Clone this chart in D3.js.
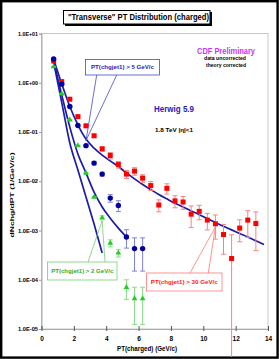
<!DOCTYPE html>
<html><head><meta charset="utf-8">
<script src="https://cdn.jsdelivr.net/npm/d3@7"></script>
<style>html,body{margin:0;padding:0;background:#fff;}svg{display:block;font-family:"Liberation Sans",Arial,sans-serif;}</style>
</head><body>
<script>
// ---- data ----
const xBins = [0.75,1.25,1.75,2.25,2.75,3.25,3.75,4.25,4.75,5.25,5.75,6.25,6.75,7.25,7.75,8.25,8.75,9.25,9.75,10.25,10.75,11.25,11.75,12.25,12.75,13.25,13.75];
const red30 = [2.78,1.06,0.465,0.206,0.134,0.084,0.0456,0.0334,0.0219,0.0140,0.0161,0.0116,0.0082,0.0033,0.0072,0.0040,0.0038,0.00215,0.00245,0.00163,0.00137,0.00083,0.00027,0.00112,0.00163,0.00139];
const red30Err = [0.03,0.02,0.012,0.008,0.007,0.005,0.0045,0.005,0.0033,0.0026,0.0028,0.002,0.0017,0.0009,0.0017,0.0011,0.0011,0.001,0.0008,0.0006,0.0007,0.0005,0.00055,0.00053,0.0009,0.001];
const blue5 = [3.05,0.94,0.33,0.136,0.053,0.0234,0.014,0.00456,0.00323,0.00074,0.00043,0.00043];
const blue5Err = [0.03,0.01,0.005,0.003,0.0015,0.0019,0.0013,0.0008,0.0008,0.0003,0.00028,0.00028];
const green2 = [2.13,0.596,0.177,0.053,0.0147,0.00478,0.00182,0.000557,0.00035,0.00007,0.0000414,0.0000414];
const green2Err = [0.02,0.005,0.002,0.0008,0.0003,0.00012,0.00017,0.00009,0.00006,0.00003,0.000029,0.000029];
const herwig30 = [3.0,0.95,0.33,0.14,0.072,0.047,0.034,0.026,0.020,0.0148,0.0112,0.0086,0.0068,0.0054,0.0044,0.0036,0.0030,0.0025,0.0021,0.00175,0.00145,0.00122,0.00103,0.00087,0.00074,0.00062,0.00052];
const herwig5 = [2.8,0.57,0.126,0.036,0.0148,0.006,0.003,0.00178,0.00112,0.00074];
const herwig2 = [2.6,0.40,0.060,0.017,0.0048,0.00135,0.00035];
const yTickVals = [1e-5,1e-4,1e-3,1e-2,1e-1,1,10];
const yTickLabels = ["1.0E-05","1.0E-04","1.0E-03","1.0E-02","1.0E-01","1.0E+00","1.0E+01"];
const xTickVals = [0,2,4,6,8,10,12,14];

// ---- layout ----
const W = 279, H = 359;
const L = 41.5, R = 268, T = 33.6, B = 329;
const svg = d3.select("body").append("svg").attr("width",W).attr("height",H);
svg.append("rect").attr("x",0).attr("y",0).attr("width",W).attr("height",H).attr("fill","#fff");
svg.append("rect").attr("x",1.2).attr("y",1.2).attr("width",W-2.6).attr("height",H-2.6)
  .attr("fill","none").attr("stroke","#000").attr("stroke-width",2.4);

const x = d3.scaleLinear().domain([0,14]).range([L,R]);
const y = d3.scaleLog().domain([1e-5,10]).range([B,T]);

// plot frame
svg.append("rect").attr("x",L).attr("y",T).attr("width",R-L).attr("height",B-T)
  .attr("fill","none").attr("stroke","#b8b8b8").attr("stroke-width",0.8);

// axes
const yAxis = svg.append("g").attr("transform",`translate(${L},0)`)
  .call(d3.axisLeft(y).tickValues(yTickVals).tickSize(2.5).tickFormat((d,i)=>yTickLabels[i]));
yAxis.select(".domain").attr("stroke","#999").attr("stroke-width",0.8);
yAxis.selectAll(".tick line").attr("stroke","#999");
yAxis.selectAll("text").attr("font-size",5.2).attr("font-weight","bold").attr("fill","#000")
  .attr("x",-3.5).attr("textLength",20).attr("lengthAdjust","spacingAndGlyphs");

const xAxis = svg.append("g").attr("transform",`translate(0,${B})`)
  .call(d3.axisBottom(x).tickValues(xTickVals).tickSize(-3).tickFormat(d3.format("d")));
xAxis.select(".domain").attr("stroke","#999").attr("stroke-width",0.8);
xAxis.selectAll(".tick line").attr("stroke","#555").attr("y1",2);
xAxis.selectAll("text").attr("font-size",6.5).attr("font-weight","bold").attr("fill","#000").attr("y",7);

// axis titles
svg.append("text").attr("x",147).attr("y",350.5).attr("text-anchor","middle")
  .attr("font-size",7).attr("font-weight","bold").attr("textLength",60).attr("lengthAdjust","spacingAndGlyphs")
  .text("PT(charged)  (GeV/c)");
svg.append("text").attr("transform","translate(14,195) rotate(-90)").attr("text-anchor","middle")
  .attr("font-size",6).attr("font-weight","bold").attr("textLength",85).attr("lengthAdjust","spacingAndGlyphs")
  .text("dNchg/dPT (1/GeV/c)");

// title box
svg.append("rect").attr("x",65).attr("y",12).attr("width",147).attr("height",14).attr("fill","#000");
svg.append("rect").attr("x",63.5).attr("y",10.5).attr("width",146.5).attr("height",13.5).attr("fill","#fff")
  .attr("stroke","#000").attr("stroke-width",1);
svg.append("text").attr("x",138.5).attr("y",20.3).attr("text-anchor","middle")
  .attr("font-size",8.6).attr("font-weight","bold").attr("textLength",141).attr("lengthAdjust","spacingAndGlyphs")
  .text("\"Transverse\" PT Distribution (charged)");

// annotations
svg.append("text").attr("x",226).attr("y",54.3).attr("text-anchor","middle").attr("fill","#cc33ff")
  .attr("font-size",8.6).attr("font-weight","bold").attr("textLength",58).attr("lengthAdjust","spacingAndGlyphs")
  .text("CDF Preliminary");
svg.append("text").attr("x",225).attr("y",60).attr("text-anchor","middle")
  .attr("font-size",4.6).attr("font-weight","bold").attr("textLength",42).attr("lengthAdjust","spacingAndGlyphs")
  .text("data uncorrected");
svg.append("text").attr("x",226).attr("y",66.8).attr("text-anchor","middle")
  .attr("font-size",4.6).attr("font-weight","bold").attr("textLength",40).attr("lengthAdjust","spacingAndGlyphs")
  .text("theory corrected");
svg.append("text").attr("x",174).attr("y",111.5).attr("text-anchor","middle").attr("fill","#2222bb")
  .attr("font-size",9.5).attr("font-weight","bold").attr("textLength",40).attr("lengthAdjust","spacingAndGlyphs")
  .text("Herwig 5.9");
svg.append("text").attr("x",174).attr("y",131.5).attr("text-anchor","middle")
  .attr("font-size",6).attr("font-weight","bold").attr("textLength",38).attr("lengthAdjust","spacingAndGlyphs")
  .text("1.8 TeV |η|<1");

// theory curves
const line = d3.line().x(d=>x(d[0])).y(d=>y(d[1])).curve(d3.curveMonotoneX);
[herwig30, herwig5, herwig2].forEach(arr=>{
  svg.append("path").attr("d",line(arr.map((v,i)=>[xBins[i],v])))
    .attr("fill","none").attr("stroke","#1c1ca8").attr("stroke-width",1.7);
});

// callout boxes with pointer lines
function callout(bx,by,bw,bh,label,txtColor,lineColor,tx,ty,lx1,lx2,fromTop,tlen){
  const yy = fromTop ? by : by+bh;
  [lx1,lx2].forEach(lx=>svg.append("line").attr("x1",lx).attr("y1",yy).attr("x2",tx).attr("y2",ty)
    .attr("stroke",lineColor).attr("stroke-width",0.8));
  svg.append("rect").attr("x",bx).attr("y",by).attr("width",bw).attr("height",bh)
    .attr("fill","#fff").attr("stroke",lineColor).attr("stroke-width",0.8);
  svg.append("text").attr("x",bx+bw/2).attr("y",by+bh/2+2.2).attr("text-anchor","middle")
    .attr("fill",txtColor).attr("font-size",6.2).attr("font-weight","bold")
    .attr("textLength",tlen).attr("lengthAdjust","spacingAndGlyphs").text(label);
}
callout(85.5,59.5,74,15.5,"PT(chgjet1) > 5 GeV/c","#2525b5","#4848c8", x(2.75), y(blue5[4])-5, 96.7,116.7,false,63);
callout(47.5,262,69.5,18,"PT(chgjet1) > 2 GeV/c","#33aa33","#77cc77", x(3.75), y(green2[6])+3, 88,105,true,62);
callout(146.5,273,75.5,18,"PT(chgjet1) > 30 GeV/c","#ff2020","#ff7a7a", x(10.75), y(red30[20])+3, 190,208.3,true,67);

// error bars & markers
function errBars(vals,errs,color){
  const g = svg.append("g").attr("stroke",color).attr("stroke-width",1);
  vals.forEach((v,i)=>{
    const cx = x(xBins[i]);
    const top = y(v+errs[i]);
    const lo = v-errs[i];
    const bot = lo>0 ? Math.min(y(lo),H-2) : H-2;
    g.append("line").attr("x1",cx).attr("x2",cx).attr("y1",top).attr("y2",bot);
    g.append("line").attr("x1",cx-2.5).attr("x2",cx+2.5).attr("y1",top).attr("y2",top);
    if(lo>0) g.append("line").attr("x1",cx-2.5).attr("x2",cx+2.5).attr("y1",bot).attr("y2",bot);
  });
}
errBars(red30,red30Err,"#ff8080");
errBars(blue5,blue5Err,"#8080dd");
errBars(green2,green2Err,"#88dd88");

svg.append("g").selectAll("rect").data(red30).join("rect")
  .attr("x",(d,i)=>x(xBins[i])-2.5).attr("y",d=>y(d)-2.5).attr("width",5).attr("height",5).attr("fill","#ff0000");
svg.append("g").selectAll("circle").data(blue5).join("circle")
  .attr("cx",(d,i)=>x(xBins[i])).attr("cy",d=>y(d)).attr("r",2.7).attr("fill","#00009c");
const tri = d3.symbol().type(d3.symbolTriangle).size(14);
svg.append("g").selectAll("path").data(green2).join("path")
  .attr("transform",(d,i)=>`translate(${x(xBins[i])},${y(d)})`).attr("d",tri).attr("fill","#22cc22");
</script>
</body></html>
